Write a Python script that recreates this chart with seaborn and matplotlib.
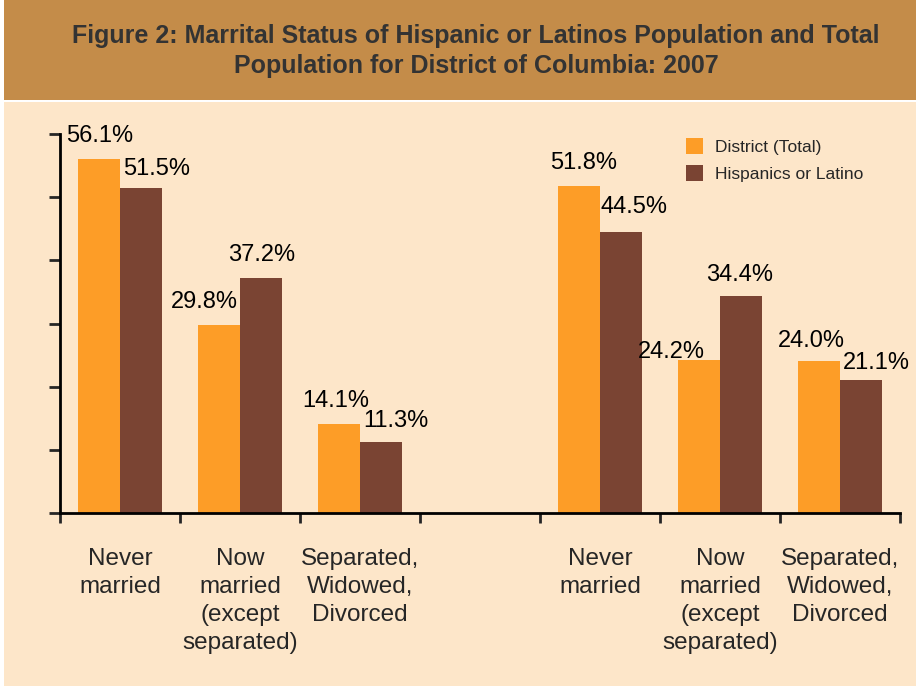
import numpy as np
import pandas as pd
import matplotlib
matplotlib.use('Agg')
import matplotlib.pyplot as plt
import seaborn as sns
from matplotlib.patches import Rectangle

# dados
grupos = ['Never\nmarried', 'Now\nmarried\n(except\nseparated)', 'Separated,\nWidowed,\nDivorced']
series = ['District (Total)', 'Hispanics or Latino']
painel_1 = {'District (Total)': [56.1, 29.8, 14.1], 'Hispanics or Latino': [51.5, 37.2, 11.3]}
painel_2 = {'District (Total)': [51.8, 24.2, 24.0], 'Hispanics or Latino': [44.5, 34.4, 21.1]}
titulo = 'Figure 2: Marrital Status of Hispanic or Latinos Population and Total\nPopulation for District of Columbia: 2007'

cores = ['#FD9D27', '#7A4433']
fundo = '#FDE6C9'
faixa = '#C48C49'

# chaves unicas por posicao, com um espaco vazio no meio
chaves = [f'a{i}' for i in range(3)] + ['vazio'] + [f'b{i}' for i in range(3)]
linhas = []
for i in range(3):
    for s in series:
        linhas.append({'pos': f'a{i}', 'serie': s, 'valor': painel_1[s][i]})
        linhas.append({'pos': f'b{i}', 'serie': s, 'valor': painel_2[s][i]})
df = pd.DataFrame(linhas)

sns.set_style('white')
plt.rcParams['font.family'] = ['Liberation Sans', 'DejaVu Sans']

fig = plt.figure(figsize=(9.22, 6.86), dpi=100, facecolor='white')
fig.patches.append(Rectangle((4/922, 0), 912/922, 1 - 102/686, transform=fig.transFigure,
                             facecolor=fundo, edgecolor='none', zorder=-2))
fig.patches.append(Rectangle((4/922, 1 - 100/686), 912/922, 100/686, transform=fig.transFigure,
                             facecolor=faixa, edgecolor='none', zorder=-2))
fig.text(476/922, 1 - 51/686, titulo, ha='center', va='center', fontsize=18, fontweight='bold',
         color='#333333', linespacing=1.35)

ax = fig.add_axes([60/922, 1 - 513/686, 840/922, 379/686])
ax.set_facecolor('none')
sns.barplot(data=df, x='pos', y='valor', hue='serie', order=chaves, hue_order=series,
            palette=cores, width=0.7, gap=0, saturation=1, ax=ax, errorbar=None, linewidth=0)

ax.set_xlim(-0.5, 6.5)
ax.set_ylim(0, 60)
ax.set_yticks(np.arange(0, 61, 10))
ax.set_yticklabels([])
ax.set_xticks(np.arange(-0.5, 7, 1))
ax.set_xticklabels([])
ax.set_xticks(range(7), minor=True)
ax.set_xticklabels(grupos + [''] + grupos, minor=True, fontsize=17.5, linespacing=1.35, va='top')
ax.tick_params(axis='x', which='minor', length=0, pad=25)
ax.tick_params(axis='x', which='major', direction='out', length=7, width=2, bottom=True)
ax.tick_params(axis='y', which='major', direction='out', length=8, width=2, left=True)
ax.set_xlabel('')
ax.set_ylabel('')
sns.despine(ax=ax)
for lado in ['left', 'bottom']:
    ax.spines[lado].set_linewidth(2)
    ax.spines[lado].set_color('black')

# rotulos de valor (deslocamentos em pixels, como no original)
desloc = [(1, 23), (-15, 23), (-3, 23), (5, 23), (-28, 8), (-8, 20),
          (16, 19), (1, 23), (15, 21), (13, 25), (-1, 21), (15, 17)]
k = 0
for cont in ax.containers:
    for barra in cont:
        h = barra.get_height()
        if np.isnan(h) or h == 0:
            continue
        dx, dy = desloc[k]
        ax.annotate(f'{h:.1f}%', (barra.get_x() + barra.get_width() / 2, h),
                    xytext=(dx, dy), textcoords='offset pixels', ha='center', va='center',
                    fontsize=17, color='black')
        k += 1

leg = ax.legend(loc='upper left', bbox_to_anchor=(610/840, 1.03), frameon=False, fontsize=12.5,
                handlelength=1.0, handleheight=1.0, handletextpad=0.7, labelspacing=0.6)

fig.savefig('out.png', dpi=100, facecolor=fig.get_facecolor())
